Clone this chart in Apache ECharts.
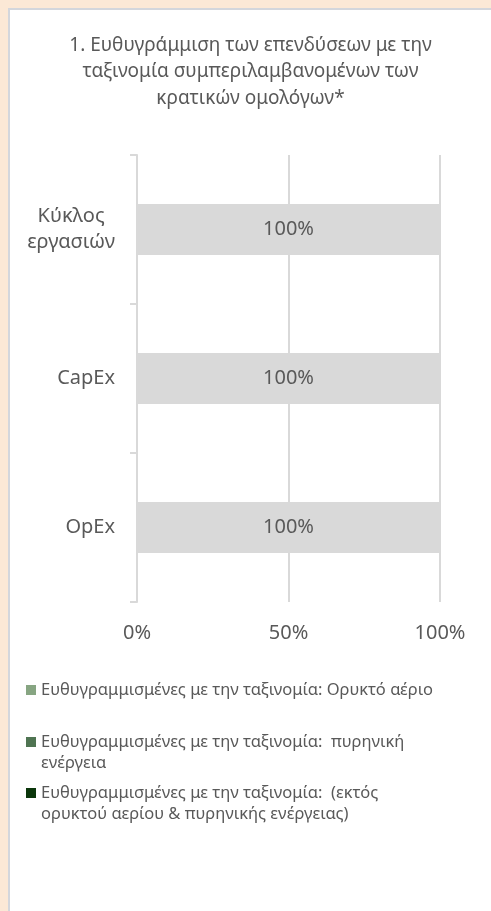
<!DOCTYPE html>
<html>
<head>
<meta charset="utf-8">
<script src="https://cdn.jsdelivr.net/npm/echarts@6/dist/echarts.min.js"></script>
<style>
    html, body {
        margin: 0;
        padding: 0;
        background: #fbe8d6;
    }
    #panel {
        position: absolute;
        left: 8px;
        top: 8px;
        width: 483px;
        height: 903px;
        background: #ffffff;
        border-left: 2px solid #d3d6dc;
        border-top: 2px solid #d3d6dc;
        box-sizing: border-box;
    }
    #chart {
        position: absolute;
        left: 10px;
        top: 10px;
        width: 481px;
        height: 901px;
    }
</style>
</head>
<body>
<div id="panel"></div>
<div id="chart"></div>
<script>
    // κατηγορίες (άξονας y)
    const categories = ['Κύκλος εργασιών', 'CapEx', 'OpEx'];
    // τιμές ανά σειρά (%)
    const gasValues = [0, 0, 0];
    const nuclearValues = [0, 0, 0];
    const otherValues = [0, 0, 0];
    const notAlignedValues = [100, 100, 100];
    // άξονας x
    const xMin = 0;
    const xMax = 100;
    const xStep = 50;

    const seriesNames = [
        'Ευθυγραμμισμένες με την ταξινομία: Ορυκτό αέριο',
        'Ευθυγραμμισμένες με την ταξινομία:  πυρηνική ενέργεια',
        'Ευθυγραμμισμένες με την ταξινομία:  (εκτός ορυκτού αερίου & πυρηνικής ενέργειας)'
    ];
    // κείμενο υπομνήματος σε γραμμές (η κενή πρώτη γραμμή κρατά το τετράγωνο στην 1η γραμμή)
    const legendText = {};
    legendText[seriesNames[0]] = seriesNames[0];
    legendText[seriesNames[1]] = '\nΕυθυγραμμισμένες με την ταξινομία:  πυρηνική\nενέργεια';
    legendText[seriesNames[2]] = '\nΕυθυγραμμισμένες με την ταξινομία:  (εκτός\nορυκτού αερίου & πυρηνικής ενέργειας)';
    const colors = ['#87a582', '#4f7452', '#0b360b', '#d9d9d9'];

    const font = '"Noto Sans", sans-serif';
    const textColor = '#595959';
    const gridColor = '#d9d9d9';

    // ένα υπόμνημα ανά σειρά, για να μπουν στις θέσεις της εικόνας
    let makeLegend = (name, top) => {
        return {
            data: [name],
            left: 16,
            top: top,
            orient: 'vertical',
            icon: 'rect',
            itemWidth: 10,
            itemHeight: 10,
            itemGap: 5,
            padding: 0,
            selectedMode: false,
            formatter: (n) => legendText[n],
            textStyle: {
                fontFamily: font,
                fontSize: 16.5,
                lineHeight: 21,
                color: textColor
            }
        };
    };

    let chart = echarts.init(document.getElementById('chart'), null, {renderer: 'canvas'});
    let option = {
        animation: false,
        color: colors,
        textStyle: {fontFamily: font},
        title: {
            text: '1. Ευθυγράμμιση των επενδύσεων με την\nταξινομία συμπεριλαμβανομένων των\nκρατικών ομολόγων*',
            left: 'center',
            top: 22,
            padding: 0,
            textStyle: {
                fontFamily: font,
                fontSize: 19,
                fontWeight: 'normal',
                lineHeight: 26.5,
                color: textColor
            }
        },
        legend: [
            makeLegend(seriesNames[0], 669.5),
            makeLegend(seriesNames[1], 700.5),
            makeLegend(seriesNames[2], 751.5)
        ],
        grid: {
            left: 127,
            right: 51,
            top: 145,
            bottom: 309,
            containLabel: false
        },
        xAxis: {
            type: 'value',
            min: xMin,
            max: xMax,
            interval: xStep,
            axisLine: {show: false},
            axisTick: {show: false},
            splitLine: {
                show: true,
                lineStyle: {color: gridColor, width: 2}
            },
            axisLabel: {
                formatter: '{value}%',
                margin: 21,
                fontFamily: font,
                fontSize: 20,
                color: textColor
            }
        },
        yAxis: {
            type: 'category',
            inverse: true,
            data: categories,
            axisLine: {
                show: true,
                lineStyle: {color: gridColor, width: 2}
            },
            axisTick: {
                show: true,
                length: 7,
                lineStyle: {color: gridColor, width: 2}
            },
            axisLabel: {
                margin: 22,
                fontFamily: font,
                fontSize: 20,
                lineHeight: 26,
                color: textColor,
                formatter: (v) => '{c|' + v.split(' ').join('}\n{c|') + '}',
                rich: {
                    c: {
                        align: 'center',
                        fontFamily: font,
                        fontSize: 20,
                        lineHeight: 26,
                        color: textColor
                    }
                }
            }
        },
        series: [
            {
                name: seriesNames[0],
                type: 'bar',
                stack: 'total',
                barWidth: 51,
                data: gasValues
            },
            {
                name: seriesNames[1],
                type: 'bar',
                stack: 'total',
                barWidth: 51,
                data: nuclearValues
            },
            {
                name: seriesNames[2],
                type: 'bar',
                stack: 'total',
                barWidth: 51,
                data: otherValues
            },
            {
                name: 'Μη ευθυγραμμισμένες με την ταξινομία',
                type: 'bar',
                stack: 'total',
                barWidth: 51,
                data: notAlignedValues,
                itemStyle: {color: colors[3]},
                label: {
                    show: true,
                    position: 'inside',
                    formatter: '{c}%',
                    fontFamily: font,
                    fontSize: 20,
                    color: textColor
                }
            }
        ]
    };
    chart.setOption(option);
</script>
</body>
</html>
